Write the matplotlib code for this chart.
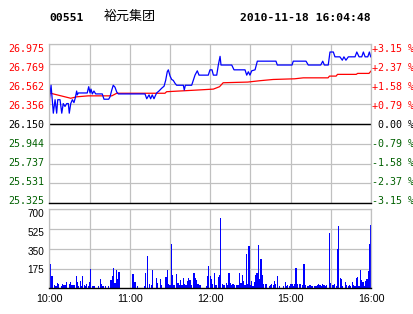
import matplotlib
matplotlib.use("Agg")
import matplotlib.pyplot as plt
from matplotlib.transforms import offset_copy

# ---- data ----
prev_close = 26.150
price_ticks = [26.975, 26.769, 26.562, 26.356, 26.150, 25.944, 25.737, 25.531, 25.325]
price_labels = ["26.975", "26.769", "26.562", "26.356", "26.150",
                "25.944", "25.737", "25.531", "25.325"]
pct_labels = ["+3.15 %", "+2.37 %", "+1.58 %", "+0.79 %", " 0.00 %",
              "-0.79 %", "-1.58 %", "-2.37 %", "-3.15 %"]
vol_ticks = [700, 525, 350, 175]
vol_labels = ["700", "525", "350", "175"]
time_ticks = [0, 60, 120, 180, 240]
time_labels = ["10:00", "11:00", "12:00", "15:00", "16:00"]

# trading minute (0 = 10:00, 240 = 16:00) and last price
price_t = [0, 1.3, 2.2, 3.0, 4.3, 5.5, 6.3, 8.0, 9.3, 10.4, 11.7, 13.0, 14.2, 14.9,
           16.0, 17.2, 18.4, 19.4, 20.4, 20.9, 21.6, 28.3, 29.4, 30.4, 31.1, 32.1,
           33.3, 34.6, 39.5, 40.8, 44.3, 45.3, 46.6, 47.7, 49.0, 50.3, 51.5, 71.4,
           72.7, 74.4, 75.6, 76.8, 78.1, 79.4, 80.1, 81.8, 83.9, 85.6, 86.8, 88.0,
           88.8, 90.1, 91.3, 92.5, 93.8, 95.0, 100.0, 100.7, 101.5, 106.2, 107.4,
           108.7, 110.4, 111.7, 118.6, 119.9, 121.4, 122.4, 124.9, 126.1, 127.4,
           128.1, 136.1, 137.8, 146.0, 147.3, 148.5, 149.7, 151.0, 153.5, 155.2,
           169.1, 170.1, 181.1, 182.0, 191.5, 193.2, 202.5, 204.0, 205.2, 208.1,
           209.4, 211.9, 213.1, 216.8, 218.6, 219.8, 221.3, 223.1, 228.1, 229.4,
           231.1, 233.1, 234.3, 235.6, 237.6, 238.8, 239.8]
price_v = [26.40, 26.55, 26.40, 26.26, 26.40, 26.26, 26.40, 26.40, 26.26, 26.36, 26.33,
           26.36, 26.36, 26.26, 26.36, 26.40, 26.37, 26.42, 26.49, 26.45, 26.47, 26.47,
           26.535, 26.47, 26.51, 26.46, 26.49, 26.46, 26.46, 26.405, 26.405, 26.43,
           26.50, 26.55, 26.53, 26.48, 26.46, 26.46, 26.41, 26.45, 26.41, 26.45, 26.41,
           26.45, 26.47, 26.49, 26.52, 26.54, 26.60, 26.69, 26.71, 26.645, 26.61, 26.60,
           26.57, 26.55, 26.55, 26.50, 26.55, 26.55, 26.60, 26.655, 26.70, 26.655,
           26.655, 26.71, 26.71, 26.655, 26.655, 26.76, 26.85, 26.76, 26.76, 26.71,
           26.71, 26.655, 26.69, 26.655, 26.70, 26.71, 26.80, 26.80, 26.76, 26.76,
           26.80, 26.80, 26.76, 26.76, 26.80, 26.76, 26.76, 26.895, 26.895, 26.845,
           26.845, 26.81, 26.845, 26.81, 26.845, 26.845, 26.895, 26.845, 26.845,
           26.895, 26.845, 26.845, 26.895, 26.845]

# average price
avg_t = [0, 0.3, 3, 16, 20.4, 29, 46.6, 50.3, 86.3, 87.5, 110, 122.4, 127, 128, 129.7,
         140, 148, 157, 167, 183, 189.5, 208, 209, 214, 215, 229, 230, 238.5, 240]
avg_v = [26.26, 26.47, 26.46, 26.415, 26.43, 26.44, 26.44, 26.467, 26.467, 26.483,
         26.50, 26.51, 26.535, 26.55, 26.576, 26.58, 26.583, 26.597, 26.61, 26.617,
         26.627, 26.627, 26.645, 26.645, 26.663, 26.663, 26.673, 26.673, 26.697]

# volume per minute
vol_t = [0, 1, 2, 4, 5, 6, 7, 9, 10, 11, 12, 13, 15, 16, 17, 18, 19, 20, 21, 22, 23, 24,
         25, 26, 27, 28, 29, 30, 31, 32, 33, 34, 37, 38, 39, 40, 42, 44, 46, 47, 48, 49,
         50, 51, 52, 62, 63, 64, 66, 71, 72, 73, 75, 76, 77, 80, 81, 83, 84, 87, 88, 89,
         90, 91, 92, 93, 95, 96, 97, 98, 99, 100, 101, 102, 103, 104, 105, 106, 108,
         109, 110, 111, 112, 113, 117, 118, 119, 120, 121, 122, 123, 124, 125, 126, 127,
         128, 129, 130, 131, 132, 133, 134, 135, 136, 137, 138, 140, 141, 142, 143, 144,
         145, 146, 147, 148, 149, 150, 151, 152, 153, 154, 155, 156, 157, 158, 159, 160,
         161, 162, 164, 165, 166, 167, 168, 169, 170, 172, 175, 176, 177, 178, 179, 180,
         181, 182, 183, 184, 185, 187, 189, 190, 191, 193, 194, 195, 196, 198, 199, 200,
         201, 202, 203, 204, 205, 206, 207, 209, 210, 211, 212, 213, 214, 215, 216, 217,
         218, 219, 221, 222, 223, 224, 225, 226, 227, 228, 229, 230, 231, 232, 233, 234,
         235, 236, 237, 238, 239, 240]
vol_v = [103, 216, 109, 30, 21, 47, 35, 21, 41, 30, 30, 53, 38, 56, 30, 30, 30, 109, 53,
         18, 65, 18, 109, 30, 18, 35, 24, 53, 171, 21, 21, 21, 21, 83, 35, 21, 21, 21, 74,
         109, 180, 47, 162, 83, 145, 127, 127, 56, 21, 21, 136, 287, 38, 27, 162, 92, 47,
         83, 30, 100, 162, 38, 27, 393, 118, 30, 127, 47, 30, 74, 30, 92, 38, 30, 65, 92,
         74, 30, 136, 92, 74, 38, 30, 30, 21, 109, 198, 109, 83, 38, 136, 30, 30, 100,
         118, 626, 38, 30, 30, 47, 30, 136, 47, 30, 38, 30, 30, 30, 136, 47, 118, 65, 30,
         304, 38, 375, 30, 65, 21, 56, 118, 136, 384, 83, 260, 118, 38, 38, 38, 21, 30,
         38, 30, 65, 38, 109, 21, 21, 56, 21, 30, 21, 38, 38, 21, 38, 180, 38, 38, 30,
         216, 30, 21, 30, 30, 21, 21, 21, 30, 38, 30, 21, 38, 30, 21, 30, 490, 47, 30, 30,
         38, 21, 349, 552, 92, 83, 21, 56, 30, 21, 30, 21, 56, 30, 21, 92, 100, 21, 162,
         74, 56, 21, 65, 83, 154, 393, 561]

W, H = 414, 314
GRID = "#c0c0c0"
RED = "#ff0000"
GREEN = "#006000"
MONO = "DejaVu Sans Mono"
SANS = "Liberation Sans"

fig = plt.figure(figsize=(W / 100, H / 100), dpi=100)
fig.patch.set_facecolor("white")


def px_axes(left, top, right, bottom):
	return fig.add_axes([left / W, 1 - bottom / H, (right - left) / W, (bottom - top) / H])


ax = px_axes(49.3, 44.3, 371, 203.3)
axv = px_axes(49.3, 209.3, 371, 288.3)

for a in (ax, axv):
	a.set_xlim(0, 240)
	a.set_xticks(range(0, 241, 30))
	a.tick_params(length=0, labelbottom=False, labelleft=False)
	a.grid(True, color=GRID, lw=0.9)
	a.set_axisbelow(True)
	for side in ("top", "left", "right"):
		a.spines[side].set_color(GRID)
		a.spines[side].set_linewidth(0.9)
	a.spines["bottom"].set_color("black")
	a.spines["bottom"].set_linewidth(1.0)

# --- price panel ---
ax.set_ylim(25.325, 26.975)
ax.set_yticks(price_ticks)
ax.axhline(prev_close, color="black", lw=1.0)
ax.plot(avg_t, avg_v, color=RED, lw=0.9)
ax.plot(price_t, price_v, color="#0000ff", lw=0.9)

ytrans = ax.get_yaxis_transform()
for i, (p, lab, pct) in enumerate(zip(price_ticks, price_labels, pct_labels)):
	if p > prev_close + 1e-9:
		col = RED
	elif p < prev_close - 1e-9:
		col = GREEN
	else:
		col = "black"
	dy = -(7.2 - 0.81 * i)
	ax.text(0, p, lab, color=col, fontsize=7.2, family=MONO, ha="right", va="baseline",
			transform=offset_copy(ytrans, fig=fig, x=-4.8, y=dy, units="dots"))
	ax.text(1, p, pct, color=col, fontsize=7.2, family=MONO, ha="left", va="baseline",
			transform=offset_copy(ytrans, fig=fig, x=1.0, y=dy, units="dots"))

# --- volume panel ---
axv.set_ylim(0, 700)
axv.set_yticks(vol_ticks)
axv.bar(vol_t, vol_v, width=0.9, color="#0000ff", linewidth=0, antialiased=False)

vtrans = axv.get_yaxis_transform()
for v, lab, dy in zip(vol_ticks, vol_labels, [7.4, 7.2, 6.3, 4.3]):
	axv.text(0, v, lab, color="black", fontsize=7.2, family=SANS, ha="right", va="baseline",
			 transform=offset_copy(vtrans, fig=fig, x=-5.0, y=-dy, units="dots"))

xtrans = axv.get_xaxis_transform()
for t, lab in zip(time_ticks, time_labels):
	axv.text(t, 0, lab, color="black", fontsize=7.7, family=SANS, ha="center", va="baseline",
			 transform=offset_copy(xtrans, fig=fig, x=0, y=-13.4, units="dots"))

# --- header ---
fig.text(49 / W, 1 - 20.7 / H, "00551", fontsize=8.2, family=MONO, weight="bold",
		 ha="left", va="baseline")
fig.text(104 / W, 1 - 20.2 / H, "裕元集团", fontsize=9.4, family=["Noto Sans CJK SC", "DejaVu Sans"],
		 ha="left", va="baseline")
fig.text(370.5 / W, 1 - 20.7 / H, "2010-11-18 16:04:48", fontsize=8.2, family=MONO,
		 weight="bold", ha="right", va="baseline")

fig.savefig("out.png", dpi=100, facecolor="white")
